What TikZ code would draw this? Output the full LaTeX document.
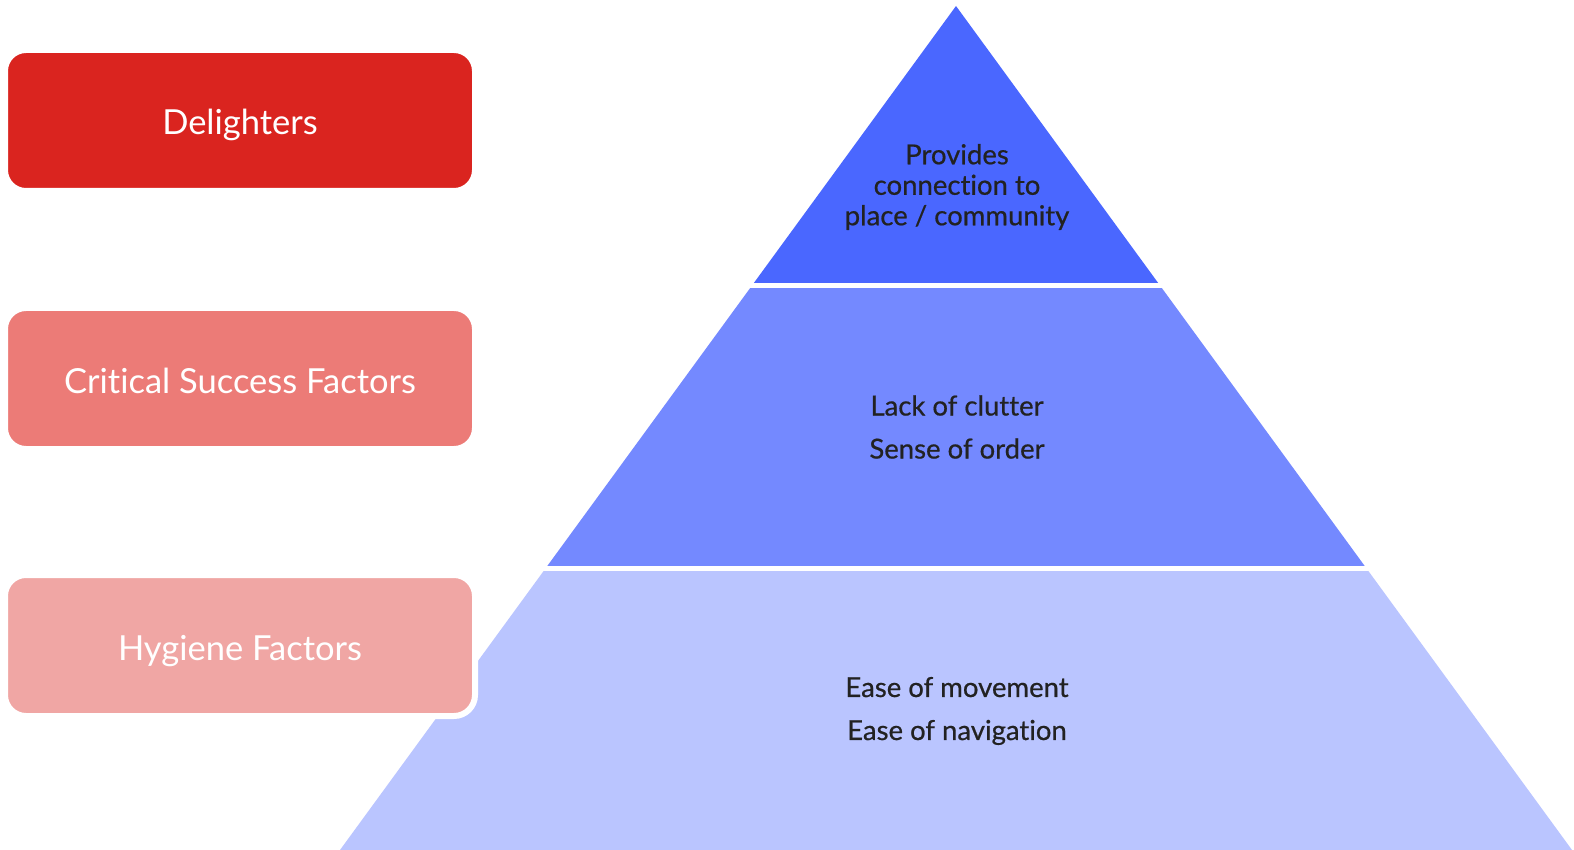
\documentclass[tikz,border=0pt]{standalone}
\usepackage{fontspec}
\setmainfont{Lato}[Ligatures=NoCommon]
\newfontfamily\tierfont{Lato}[Ligatures=NoCommon, FakeBold=0.6]
\usetikzlibrary{positioning}

\definecolor{delightred}{HTML}{DA241F}
\definecolor{criticalred}{HTML}{EC7B77}
\definecolor{hygienered}{HTML}{F0A6A4}
\definecolor{tierone}{HTML}{4A67FF}
\definecolor{tiertwo}{HTML}{7489FF}
\definecolor{tierthree}{HTML}{BAC5FF}
\definecolor{tiertext}{HTML}{222222}

\tikzset{
  factor/.style={draw=white, line width=6pt, rounded corners=21pt,
    minimum width=470pt, minimum height=141pt, text=white,
    text height=29pt, text depth=0pt,
    font=\fontsize{34.5}{40}\selectfont},
  tierlabel/.style={text=tiertext, align=center, font=\tierfont\fontsize{27.5}{30.5}\selectfont}
}

\begin{document}
\begin{tikzpicture}[x=1pt,y=-1pt]
\useasboundingbox (0,0) rectangle (1574,850);

% pyramid, cut into three bands
\coordinate (apex) at (956,6);
\coordinate (baseleft) at (340,850);
\coordinate (baseright) at (1572,850);
\begin{scope}
  \clip (apex)--(baseleft)--(baseright)--cycle;
  \fill[tierone] (0,0) rectangle (1574,283);
  \fill[tiertwo] (0,288) rectangle (1574,566);
  \fill[tierthree] (0,571) rectangle (1574,851);
\end{scope}

\node[tierlabel] (connection) at (957,187) {Provides\\connection to\\place / community};
\node[tierlabel, font=\tierfont\fontsize{27.5}{43}\selectfont] (order) at (957,427) {Lack of clutter\\Sense of order};
\node[tierlabel, font=\tierfont\fontsize{27.5}{43}\selectfont] (movement) at (957,711) {Ease of movement\\Ease of navigation};

% factor boxes
\node[factor, fill=delightred] (delighters) at (240,120.5) {Delighters};
\node[factor, fill=criticalred] (critical) at (240,378.5) {Critical Success Factors};
\node[factor, fill=hygienered] (hygiene) at (240,645.5) {Hygiene Factors};
\end{tikzpicture}
\end{document}
